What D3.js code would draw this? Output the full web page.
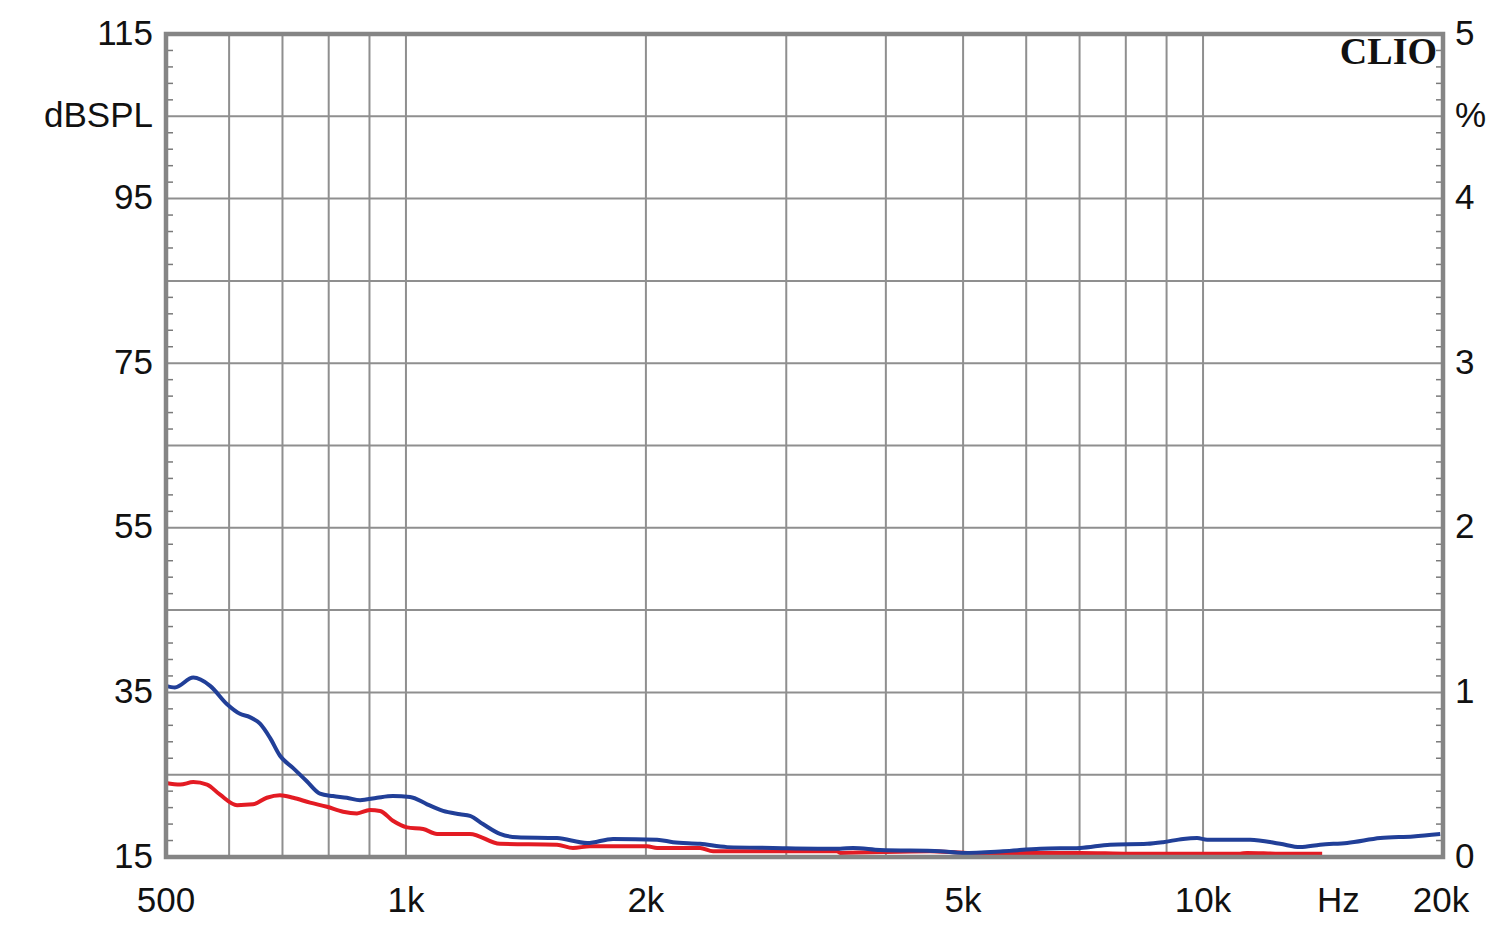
<!DOCTYPE html>
<html>
<head>
<meta charset="utf-8">
<script src="https://cdn.jsdelivr.net/npm/d3@7"></script>
<style>
  html, body { margin: 0; padding: 0; background: #fff; }
  svg { display: block; }
  text { font-family: "Liberation Sans", Arial, sans-serif; fill: #111; }
</style>
</head>
<body>
<svg id="chart" width="1500" height="933"></svg>
<script>
// ---- data ----
const blueFreq = [500, 513, 541, 568, 596, 619, 637, 656, 675, 695, 722, 751, 780, 810, 843, 876, 920, 963, 1012, 1063, 1113, 1169, 1203, 1249, 1312, 1379, 1547, 1688, 1819, 2066, 2163, 2339, 2529, 2887, 3505, 3639, 3934, 4679, 5000, 5612, 6249, 7012, 7646, 8508, 8910, 9440, 9830, 10118, 11458, 12494, 13237, 14024, 15165, 16686, 18349, 19842];
const blueDb   = [35.8, 35.6, 36.8, 35.8, 33.6, 32.4, 32.0, 31.2, 29.5, 27.3, 25.8, 24.2, 22.7, 22.4, 22.2, 21.9, 22.2, 22.4, 22.3, 21.4, 20.6, 20.2, 20.0, 19.0, 17.8, 17.4, 17.3, 16.7, 17.2, 17.1, 16.8, 16.6, 16.2, 16.1, 16.0, 16.1, 15.85, 15.7, 15.5, 15.7, 16.0, 16.1, 16.5, 16.6, 16.8, 17.2, 17.3, 17.1, 17.1, 16.6, 16.2, 16.5, 16.7, 17.3, 17.5, 17.8];

const redFreq = [500, 521, 541, 563, 584, 614, 643, 669, 695, 722, 758, 796, 834, 868, 901, 928, 963, 1003, 1051, 1094, 1203, 1312, 1547, 1620, 1702, 2007, 2066, 2339, 2428, 3474, 3505, 4546, 5058, 7012, 8100, 11130, 11356, 12494, 14107];
const redDb   = [24.0, 23.8, 24.1, 23.8, 22.6, 21.3, 21.4, 22.2, 22.5, 22.2, 21.6, 21.1, 20.5, 20.3, 20.7, 20.6, 19.4, 18.6, 18.4, 17.8, 17.8, 16.6, 16.5, 16.1, 16.3, 16.3, 16.1, 16.1, 15.7, 15.7, 15.5, 15.7, 15.5, 15.5, 15.4, 15.4, 15.5, 15.4, 15.4];

const xTickValues = [500, 1000, 2000, 5000, 10000, 15000, 20000];
const xTickLabels = ["500", "1k", "2k", "5k", "10k", "Hz", "20k"];
const xGridValues = [600, 700, 800, 900, 1000, 2000, 3000, 4000, 5000, 6000, 7000, 8000, 9000, 10000];
const leftTickValues = [115, 95, 75, 55, 35, 15];
const rightTickValues = [5, 4, 3, 2, 1, 0];
const yGridValues = [105, 95, 85, 75, 65, 55, 45, 35, 25];

// ---- layout ----
const L = 166, R = 1443, T = 34, B = 857;
const svg = d3.select("#chart");

const x = d3.scaleLog().domain([500, 20000]).range([L, R]);
const y = d3.scaleLinear().domain([15, 115]).range([B, T]);
const y2 = d3.scaleLinear().domain([0, 5]).range([B, T]);

const gridColor = "#8f8f8f";
const FS = 35;

// grid
svg.append("g").selectAll("line").data(xGridValues).join("line")
  .attr("x1", d => x(d)).attr("x2", d => x(d))
  .attr("y1", T).attr("y2", B)
  .attr("stroke", gridColor).attr("stroke-width", 2);
svg.append("g").selectAll("line").data(yGridValues).join("line")
  .attr("x1", L).attr("x2", R)
  .attr("y1", d => y(d)).attr("y2", d => y(d))
  .attr("stroke", gridColor).attr("stroke-width", 2);

// minor ticks (every 2 dB) inside left and right edges
const minor = d3.range(15, 115.01, 2).filter(v => (v - 15) % 10 !== 0);
svg.append("g").selectAll("line").data(minor).join("line")
  .attr("x1", L).attr("x2", L + 7)
  .attr("y1", d => y(d)).attr("y2", d => y(d))
  .attr("stroke", "#7a7a7a").attr("stroke-width", 1.5);
svg.append("g").selectAll("line").data(minor).join("line")
  .attr("x1", R - 7).attr("x2", R)
  .attr("y1", d => y(d)).attr("y2", d => y(d))
  .attr("stroke", "#7a7a7a").attr("stroke-width", 1.5);

// curves
const line = d3.line().x(d => x(d[0])).y(d => y(d[1])).curve(d3.curveMonotoneX);
const blue = blueFreq.map((f, i) => [f, blueDb[i]]);
const red = redFreq.map((f, i) => [f, redDb[i]]);

svg.append("path").datum(red).attr("d", line)
  .attr("fill", "none").attr("stroke", "#e31b23").attr("stroke-width", 4)
  .attr("stroke-linejoin", "round");
svg.append("path").datum(blue).attr("d", line)
  .attr("fill", "none").attr("stroke", "#213f98").attr("stroke-width", 4)
  .attr("stroke-linejoin", "round");

// frame
svg.append("rect").attr("x", L).attr("y", T).attr("width", R - L).attr("height", B - T)
  .attr("fill", "none").attr("stroke", "#858585").attr("stroke-width", 4.5);

// left axis labels
svg.append("g").selectAll("text").data(leftTickValues).join("text")
  .attr("x", 153).attr("y", d => y(d)).attr("dy", "0.3em")
  .attr("text-anchor", "end").attr("font-size", FS)
  .text(d => d);
svg.append("text").attr("x", 153).attr("y", y(105)).attr("dy", "0.3em")
  .attr("text-anchor", "end").attr("font-size", FS).text("dBSPL");

// right axis labels
svg.append("g").selectAll("text").data(rightTickValues).join("text")
  .attr("x", 1455).attr("y", d => y2(d)).attr("dy", "0.3em")
  .attr("text-anchor", "start").attr("font-size", FS)
  .text(d => d);
svg.append("text").attr("x", 1455).attr("y", y2(4.5)).attr("dy", "0.3em")
  .attr("text-anchor", "start").attr("font-size", FS).text("%");

// bottom labels
svg.append("g").selectAll("text").data(xTickValues).join("text")
  .attr("x", (d, i) => x(d) + (i === xTickValues.length - 1 ? -2 : (i === 5 ? -5 : 0)))
  .attr("y", 912)
  .attr("text-anchor", "middle").attr("font-size", FS)
  .text((d, i) => xTickLabels[i]);

// CLIO watermark
svg.append("text").attr("x", 1437).attr("y", 64)
  .attr("text-anchor", "end")
  .style("font-family", "'Liberation Serif', 'DejaVu Serif', serif")
  .style("font-weight", "bold").attr("font-size", 38)
  .attr("fill", "#111")
  .text("CLIO");
</script>
</body>
</html>
